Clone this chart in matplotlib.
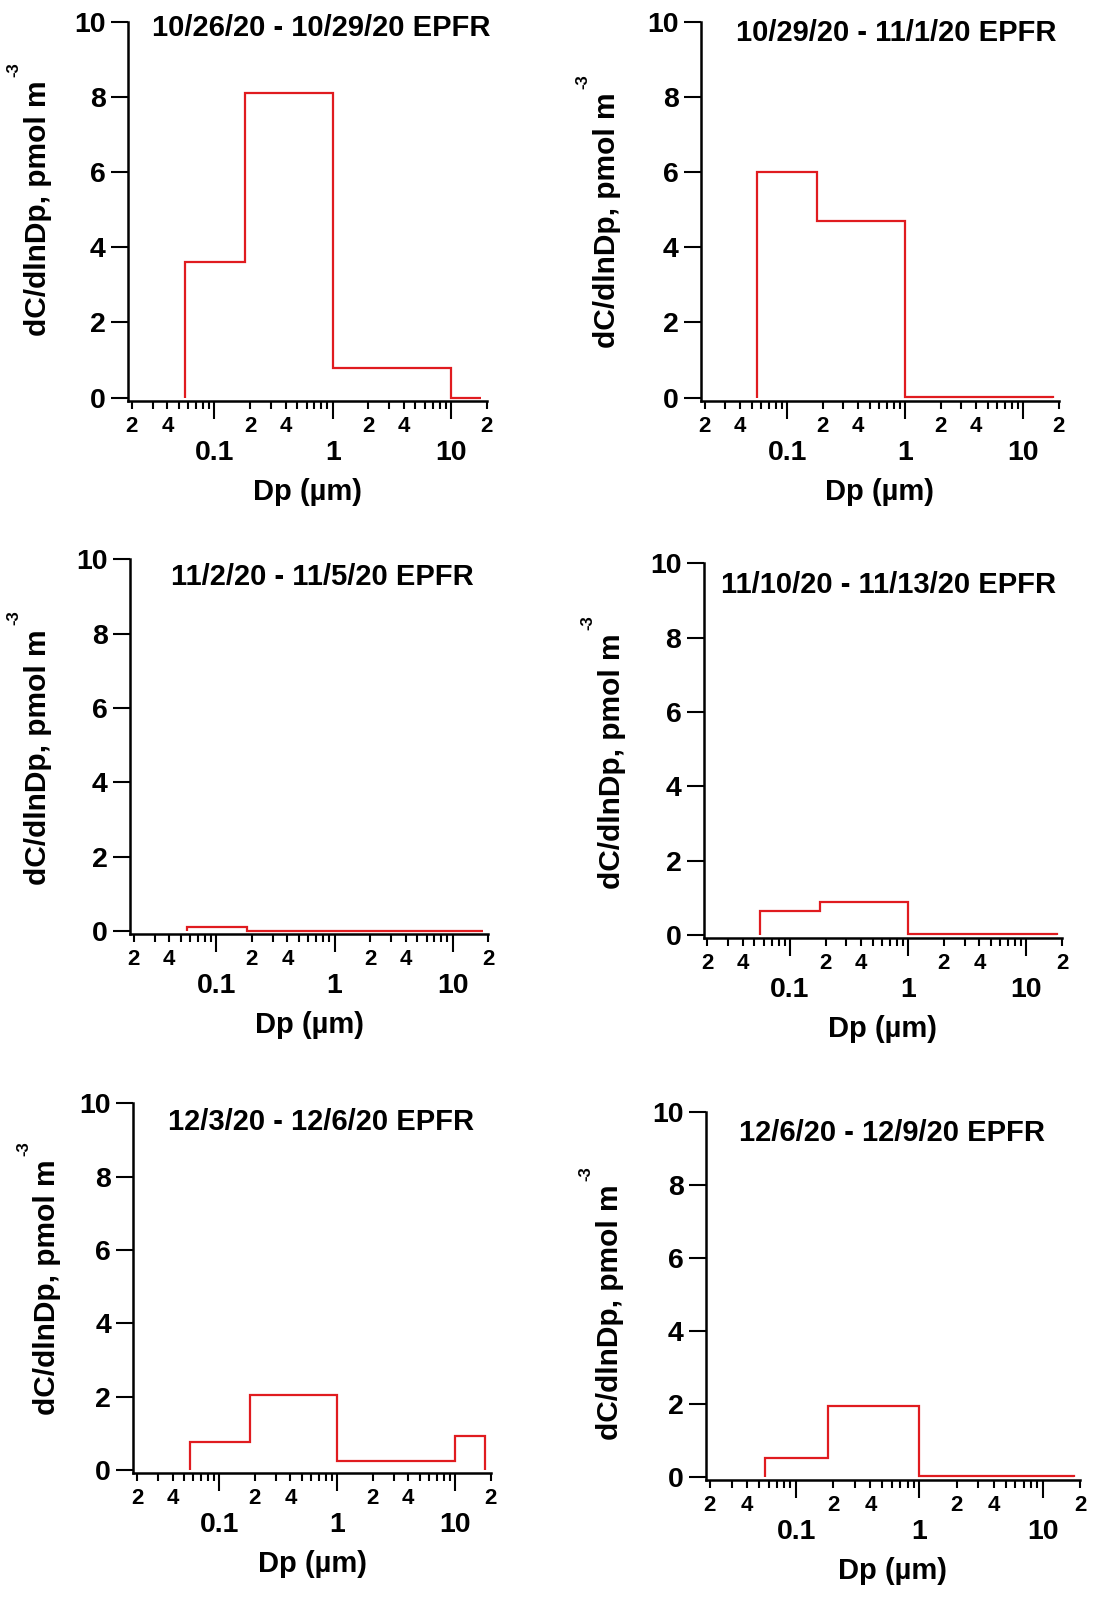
import matplotlib
matplotlib.use("Agg")
import matplotlib.pyplot as plt
from matplotlib.ticker import FixedLocator, FuncFormatter

plt.rcParams['font.family'] = ['Liberation Sans', 'DejaVu Sans']
plt.rcParams['font.weight'] = 'bold'

# ---- data ----
bin_edges = [0.056, 0.18, 1.0, 10.0, 18.0]
titles = ["10/26/20 - 10/29/20 EPFR", "10/29/20 - 11/1/20 EPFR",
          "11/2/20 - 11/5/20 EPFR", "11/10/20 - 11/13/20 EPFR",
          "12/3/20 - 12/6/20 EPFR", "12/6/20 - 12/9/20 EPFR"]
vals_1026 = [3.6, 8.1, 0.8, 0.0]
vals_1029 = [6.0, 4.7, 0.03, 0.02]
vals_1102 = [0.1, 0.01, 0.01, 0.01]
vals_1110 = [0.65, 0.9, 0.03, 0.02]
vals_1203 = [0.77, 2.05, 0.25, 0.93]
vals_1206 = [0.51, 1.94, 0.03, 0.02]
series = [vals_1026, vals_1029, vals_1102, vals_1110, vals_1203, vals_1206]
y_ticks = [0, 2, 4, 6, 8, 10]
x_major = [0.1, 1, 10]
x_major_labels = ["0.1", "1", "10"]
x_minor = [m * d for d in (0.01, 0.1, 1) for m in range(2, 10)] + [20]
x_label = "Dp (µm)"
y_label = "dC/dlnDp, pmol m"
y_label_sup = "-3"

# ---- layout (pixels: left, right, top, bottom) ----
W, H = 1094, 1598
boxes = [(128, 486.7, 21.7, 400.7), (701, 1058.7, 21.7, 400.7),
         (130, 488.3, 559.3, 934), (703.7, 1062, 563.3, 938),
         (133.3, 490.7, 1103.3, 1473), (706, 1080, 1112.3, 1480)]
title_pos = [(0.54, 0.983), (0.545, 0.97), (0.537, 0.954),
             (0.516, 0.942), (0.525, 0.95), (0.496, 0.944)]
ylabel_pos = [(-0.213, 0.507), (-0.224, 0.476), (-0.219, 0.473),
              (-0.217, 0.472), (-0.201, 0.503), (-0.219, 0.457)]

RED = '#e01b1f'
fig = plt.figure(figsize=(W / 100, H / 100), dpi=100)


def minor_fmt(v, pos):
    s = f"{v:.3g}"
    lead = s.lstrip('0.')[:1]
    return lead if lead in ('2', '4') else ''


def major_fmt(v, pos):
    for mv, lab in zip(x_major, x_major_labels):
        if abs(v - mv) < 1e-9 * max(1, mv):
            return lab
    return ''


for i, (l, r, t, b) in enumerate(boxes):
    ax = fig.add_axes([l / W, 1 - b / H, (r - l) / W, (b - t) / H])
    ax.stairs(series[i], bin_edges, baseline=0, color=RED, lw=1.6)
    ax.set_xscale('log')
    ax.set_xlim(0.0186, 20)
    ax.set_ylim(-0.08, 10)
    for s in ('top', 'right'):
        ax.spines[s].set_visible(False)
    for s in ('left', 'bottom'):
        ax.spines[s].set_linewidth(1.8)
    ax.set_yticks(y_ticks)
    ax.set_yticklabels([str(v) for v in y_ticks])
    ax.xaxis.set_major_locator(FixedLocator(x_major))
    ax.xaxis.set_major_formatter(FuncFormatter(major_fmt))
    ax.xaxis.set_minor_locator(FixedLocator(x_minor))
    ax.xaxis.set_minor_formatter(FuncFormatter(minor_fmt))
    ax.tick_params(axis='y', which='major', direction='out', length=12, width=1.5,
                   pad=4, labelsize=20.5)
    ax.tick_params(axis='x', which='major', direction='out', length=13, width=1.5,
                   pad=15, labelsize=20.5)
    ax.tick_params(axis='x', which='minor', direction='out', length=6, width=1.5,
                   pad=5, labelsize=16)
    for lab in ax.get_xticklabels(which='both') + ax.get_yticklabels():
        lab.set_fontweight('bold')
    ax.set_xlabel(x_label, fontsize=21, fontweight='bold', labelpad=9)
    yl = ax.set_ylabel(y_label, fontsize=21.5, fontweight='bold')
    ax.yaxis.set_label_coords(*ylabel_pos[i])
    ax.annotate(y_label_sup, xy=(0, 1), xycoords=yl, xytext=(-10, 11),
                textcoords='offset pixels', rotation=90, ha='center', va='center',
                fontsize=12, fontweight='bold')
    ax.text(title_pos[i][0], title_pos[i][1], titles[i], transform=ax.transAxes,
            ha='center', va='center', fontsize=21, fontweight='bold')

fig.savefig("out.png", dpi=100)
